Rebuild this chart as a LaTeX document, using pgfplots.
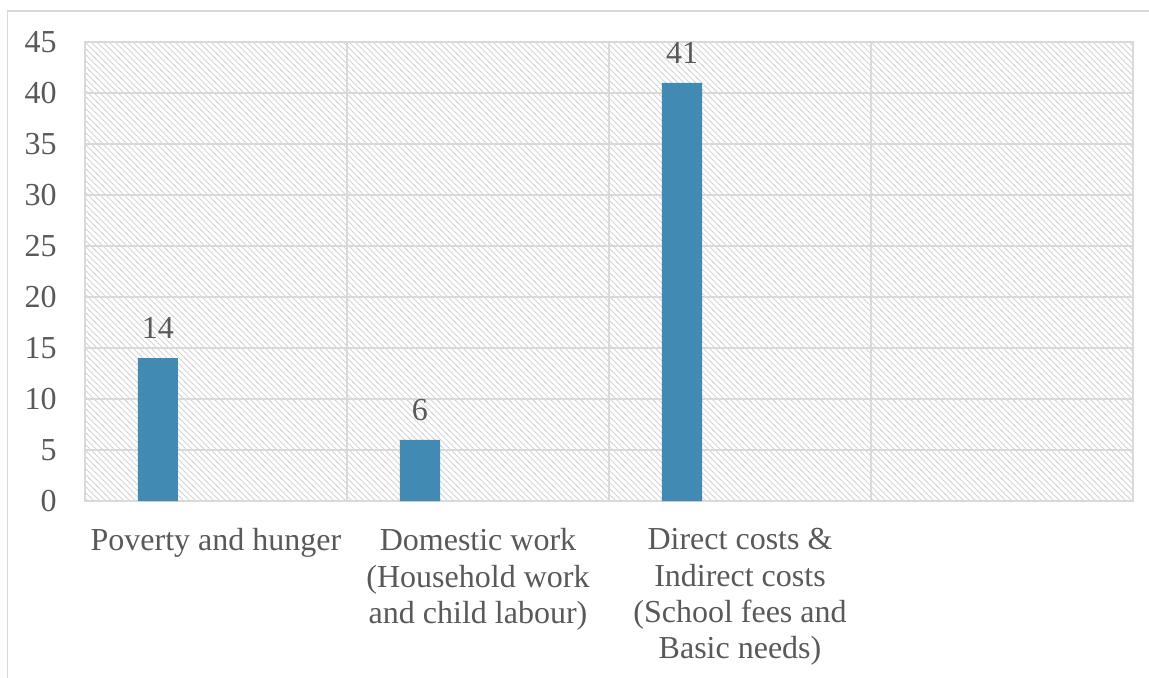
\documentclass[border=0pt]{standalone}
\usepackage{fontspec}
\setmainfont{Liberation Serif}
\usepackage{pgfplots}
\pgfplotsset{compat=1.18}
\usetikzlibrary{patterns}
\definecolor{barblue}{RGB}{64,138,179}
\definecolor{gridgray}{RGB}{217,217,217}
\definecolor{txtgray}{RGB}{89,89,89}
\begin{document}
\begin{tikzpicture}
\useasboundingbox (-42.5pt,-88pt) rectangle (532pt,250.5pt);
\draw[gridgray, line width=0.75pt] (-38.75pt,-95pt) -- (-38.75pt,245pt) -- (540pt,245pt);
\begin{axis}[
  at={(0pt,0pt)}, anchor=south west,
  scale only axis, width=524pt, height=229.5pt,
  xmin=-0.5, xmax=3.5, ymin=0, ymax=45,
  ytick={0,5,...,45},
  xtick={0,1,2,3},
  xticklabels={Poverty and hunger,{Domestic work\\(Household work\\and child labour)},{Direct costs \&\\Indirect costs\\(School fees and\\Basic needs)},{}},
  minor xtick={-0.5,0.5,1.5,2.5,3.5},
  xminorgrids, ymajorgrids,
  grid style={gridgray, line width=0.75pt},
  minor grid style={gridgray, line width=0.75pt},
  major grid style={gridgray, line width=0.75pt},
  axis line style={gridgray, line width=0.75pt},
  major tick length=0pt, minor tick length=0pt,
  tick style={draw=none},
  axis background/.style={pattern=north west lines, pattern color=black!17},
  /pgf/number format/assume math mode=true,
  tick label style={font=\fontsize{16}{18.2}\selectfont, text=txtgray},
  yticklabel style={anchor=east, inner sep=0pt, xshift=-14pt},
  xticklabel style={anchor=north, align=center, inner sep=0pt, yshift=-13.5pt},
  ybar, bar width=0.1527, bar shift=-0.2214,
  nodes near coords,
  nodes near coords style={font=\fontsize{16}{18}\selectfont, text=txtgray, inner sep=0pt, anchor=south, yshift=9.5pt},
  clip=false,
]
\addplot[fill=barblue, draw=none] coordinates {(0,14) (1,6) (2,41)};
\end{axis}
\end{tikzpicture}
\end{document}
